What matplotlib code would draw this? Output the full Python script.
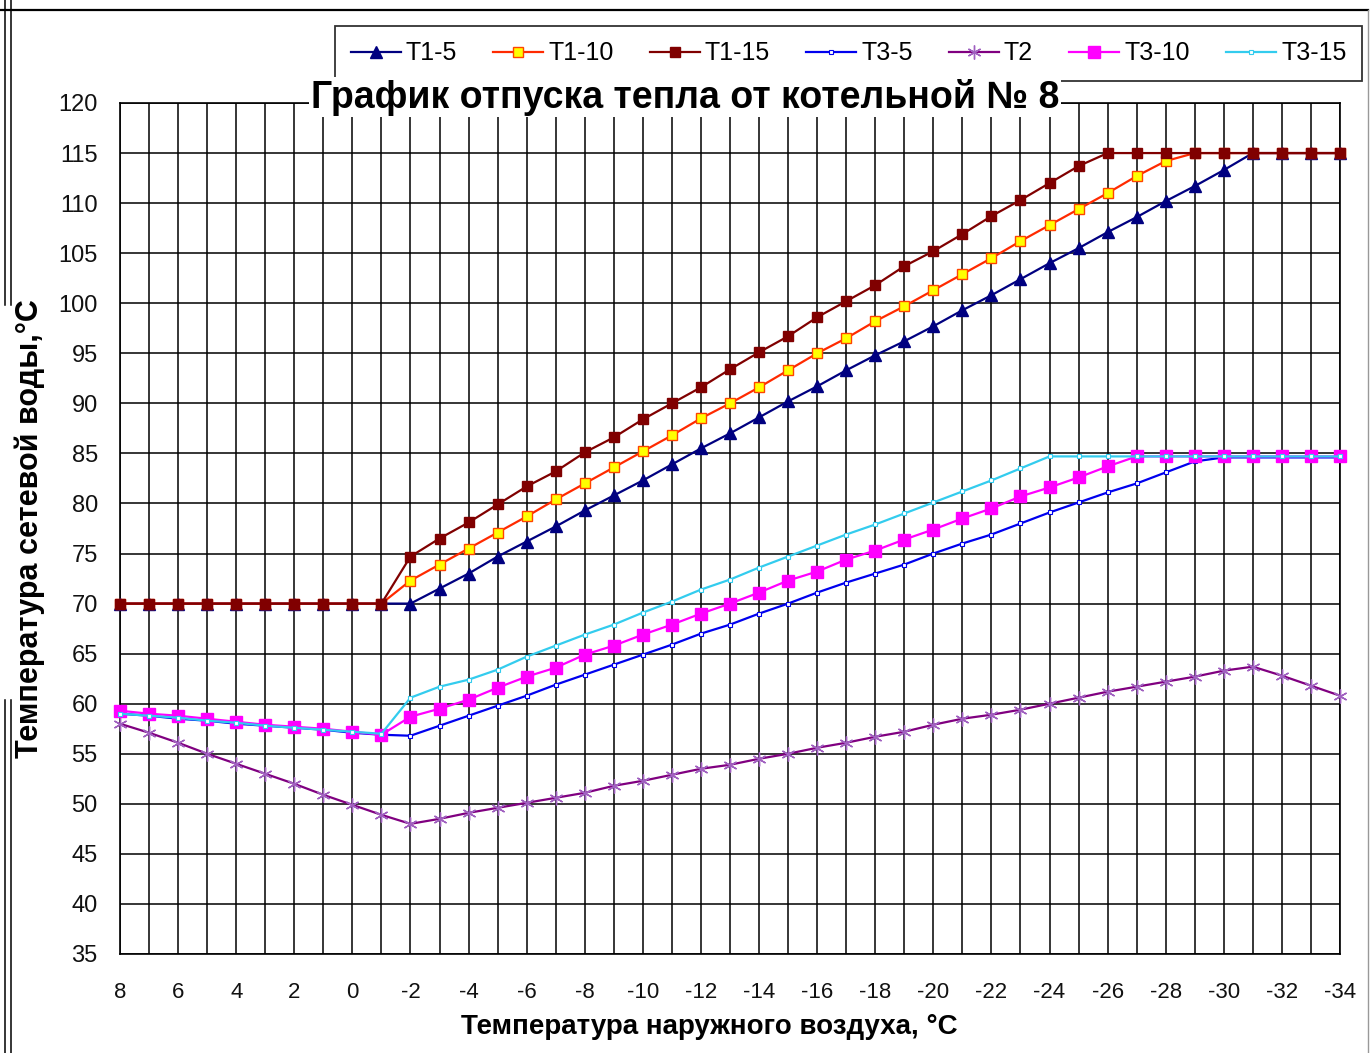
import matplotlib
matplotlib.use("Agg")
import matplotlib.pyplot as plt
from matplotlib import font_manager
from matplotlib.lines import Line2D

# ---------------- data ----------------
outdoor_temp = list(range(8, -35, -1))  # 8 ... -34 (categories)

T1_5 = [70, 70, 70, 70, 70, 70, 70, 70, 70, 70, 70,
        71.5, 73.0, 74.7, 76.2, 77.7, 79.3, 80.8, 82.3, 83.9, 85.5,
        87.0, 88.6, 90.2, 91.7, 93.3, 94.8, 96.2, 97.7, 99.3, 100.8,
        102.4, 104.0, 105.5, 107.1, 108.6, 110.2, 111.7, 113.3, 115, 115, 115, 115]
T1_10 = [70, 70, 70, 70, 70, 70, 70, 70, 70, 70,
         72.3, 73.9, 75.5, 77.1, 78.7, 80.4, 82.0, 83.6, 85.2, 86.8,
         88.5, 90.0, 91.6, 93.3, 95.0, 96.5, 98.2, 99.7, 101.3, 102.9,
         104.5, 106.2, 107.8, 109.4, 111.0, 112.7, 114.2, 115, 115, 115, 115, 115, 115]
T1_15 = [70, 70, 70, 70, 70, 70, 70, 70, 70, 70,
         74.7, 76.5, 78.1, 79.9, 81.7, 83.2, 85.1, 86.6, 88.4, 90.0,
         91.6, 93.4, 95.1, 96.7, 98.6, 100.2, 101.8, 103.7, 105.2, 106.9,
         108.7, 110.3, 112.0, 113.7, 115, 115, 115, 115, 115, 115, 115, 115, 115]
T3_5 = [59.0, 58.8, 58.5, 58.3, 58.0, 57.8, 57.6, 57.4, 57.1, 56.9,
        56.8, 57.8, 58.8, 59.8, 60.8, 61.9, 62.9, 63.9, 64.9, 65.9,
        67.0, 67.9, 69.0, 70.0, 71.1, 72.1, 73.0, 73.9, 75.0, 76.0,
        76.9, 78.0, 79.1, 80.1, 81.1, 82.0, 83.1, 84.2, 84.6, 84.6, 84.6, 84.6, 84.6]
T2 = [58.0, 57.1, 56.1, 55.0, 54.0, 53.0, 52.0, 50.9, 49.9, 48.9,
      48.0, 48.5, 49.1, 49.6, 50.1, 50.6, 51.1, 51.8, 52.3, 52.9,
      53.5, 53.9, 54.5, 55.0, 55.6, 56.1, 56.7, 57.2, 57.9, 58.5,
      58.9, 59.4, 60.0, 60.6, 61.2, 61.7, 62.2, 62.7, 63.3, 63.7, 62.8, 61.8, 60.8]
T3_10 = [59.3, 59.0, 58.8, 58.5, 58.2, 57.9, 57.7, 57.5, 57.2, 56.9,
         58.7, 59.5, 60.4, 61.6, 62.7, 63.6, 64.9, 65.8, 66.9, 67.9,
         69.0, 70.0, 71.1, 72.3, 73.2, 74.4, 75.3, 76.4, 77.4, 78.5,
         79.5, 80.7, 81.6, 82.6, 83.7, 84.7, 84.7, 84.7, 84.7, 84.7, 84.7, 84.7, 84.7]
T3_15 = [59.0, 58.8, 58.6, 58.3, 58.1, 57.8, 57.6, 57.4, 57.2, 57.0,
         60.6, 61.7, 62.4, 63.4, 64.7, 65.8, 66.9, 67.9, 69.1, 70.2,
         71.4, 72.4, 73.6, 74.7, 75.8, 76.9, 77.9, 79.0, 80.1, 81.2,
         82.3, 83.5, 84.7, 84.7, 84.7, 84.7, 84.7, 84.7, 84.7, 84.7, 84.7, 84.7, 84.7]

series_names = ["T1-5", "T1-10", "T1-15", "T3-5", "T2", "T3-10", "T3-15"]
y_ticks = list(range(35, 121, 5))
title_text = "График отпуска тепла от котельной № 8"
x_title = "Температура наружного воздуха, °С"
y_title = "Температура сетевой воды,°С"

# ---------------- fonts ----------------
available = {f.name for f in font_manager.fontManager.ttflist}
base_font = "Liberation Sans" if "Liberation Sans" in available else "DejaVu Sans"
plt.rcParams["font.family"] = [base_font, "DejaVu Sans"]

W, H = 1372, 1053
fig = plt.figure(figsize=(W / 100, H / 100), dpi=100)
fig.patch.set_facecolor("white")

L, R, T, B = 120, 1340, 103, 954
ax = fig.add_axes([L / W, 1 - B / H, (R - L) / W, (B - T) / H])

x = list(range(len(outdoor_temp)))

styles = [
    dict(color="#000080", marker="^", ms=8, mfc="#000080", mec="#000080"),
    dict(color="#FF2A00", marker="s", ms=6.5, mfc="#FFFF00", mec="#FF4400", mew=1.0),
    dict(color="#800000", marker="s", ms=7, mfc="#800000", mec="#800000"),
    dict(color="#0000EE", marker="s", ms=3, mfc="white", mec="#0000EE", mew=0.8),
    dict(color="#800080", marker=(6, 2, 0), ms=10, mec="#A060C0", mew=1.0),
    dict(color="#FF00FF", marker="s", ms=9, mfc="#FF00FF", mec="#FF00FF"),
    dict(color="#33CCEE", marker="s", ms=3, mfc="white", mec="#33CCEE", mew=0.8),
]
all_series = [T1_5, T1_10, T1_15, T3_5, T2, T3_10, T3_15]

handles = []
for name, vals, st in zip(series_names, all_series, styles):
    ln, = ax.plot(x, vals, lw=1.6, label=name, clip_on=False, zorder=3, **st)
    handles.append(ln)

ax.set_xlim(0, len(x) - 1)
ax.set_ylim(35, 120)
ax.set_yticks(y_ticks)
ax.set_yticklabels([str(v) for v in y_ticks], fontsize=17, color="#111111")
ax.set_xticks(x)
ax.set_xticklabels([str(t) if i % 2 == 0 else "" for i, t in enumerate(outdoor_temp)],
                   fontsize=16, color="#111111")
ax.tick_params(axis="both", length=0)
ax.tick_params(axis="x", pad=20)
ax.tick_params(axis="y", pad=16)
ax.grid(True, color="black", lw=1.1)
ax.set_axisbelow(True)
for s in ax.spines.values():
    s.set_color("black")
    s.set_linewidth(1.2)

ax.set_xlabel(x_title, fontsize=20, fontweight="bold")
ax.xaxis.set_label_coords(0.483, -60 / (B - T))
ax.set_ylabel(y_title, fontsize=22, fontweight="bold")
ax.yaxis.set_label_coords(-75 / (R - L), 0.5)

leg = fig.legend(handles=handles, loc="upper right",
                 bbox_to_anchor=(1362 / W, 1 - 26 / H), ncol=7,
                 fontsize=18, frameon=True, fancybox=False, edgecolor="black",
                 handlelength=2.0, handletextpad=0.2, columnspacing=1.45,
                 borderpad=0.62, borderaxespad=0)
leg.get_frame().set_linewidth(1.3)
leg.set_zorder(4)

fig.text(685 / W, 1 - 97 / H, title_text, fontsize=27, fontweight="bold",
         ha="center", va="center", zorder=10,
         bbox=dict(facecolor="white", edgecolor="none", pad=1))

# outer frame pieces
def fig_line(xs, ys, **kw):
    fig.add_artist(Line2D([v / W for v in xs], [1 - v / H for v in ys],
                          transform=fig.transFigure, **kw))

fig_line([0, 1368], [10, 10], color="black", lw=1.6)
fig_line([1368, 1368], [10, 1053], color="#999999", lw=1.0)
for xx in (5, 11):
    fig_line([xx, xx], [0, 305], color="black", lw=1.1)
    fig_line([xx, xx], [700, 1053], color="black", lw=1.1)

fig.savefig("out.png", dpi=100, facecolor="white")
